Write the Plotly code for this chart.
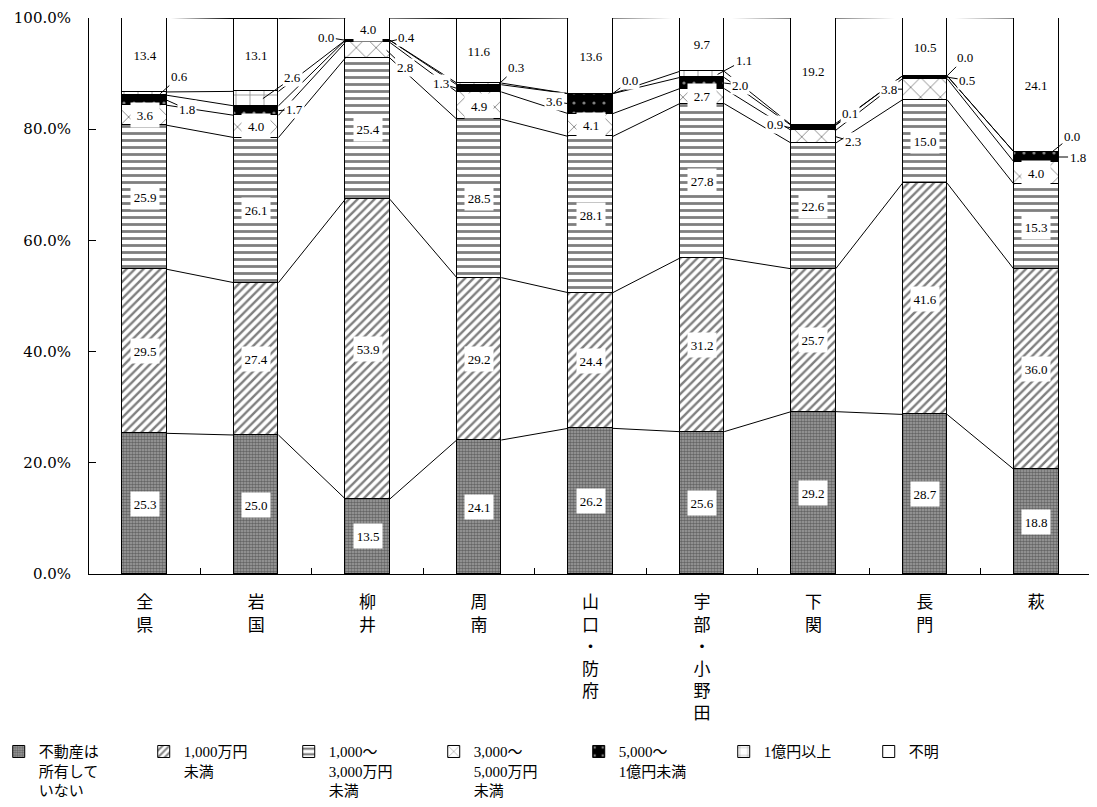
import plotly.graph_objects as go

categories = ["全県", "岩国", "柳井", "周南", "山口・防府", "宇部・小野田", "下関", "長門", "萩"]
series_names = ["不動産は<br>所有して<br>いない", "1,000万円<br>未満", "1,000～<br>3,000万円<br>未満",
                "3,000～<br>5,000万円<br>未満", "5,000～<br>1億円未満", "1億円以上", "不明"]

s_none = [25.3, 25.0, 13.5, 24.1, 26.2, 25.6, 29.2, 28.7, 18.8]
s_lt1000 = [29.5, 27.4, 53.9, 29.2, 24.4, 31.2, 25.7, 41.6, 36.0]
s_1000_3000 = [25.9, 26.1, 25.4, 28.5, 28.1, 27.8, 22.6, 15.0, 15.3]
s_3000_5000 = [3.6, 4.0, 2.8, 4.9, 4.1, 2.7, 2.3, 3.8, 4.0]
s_5000_1oku = [1.8, 1.7, 0.4, 1.3, 3.6, 2.0, 0.9, 0.5, 1.8]
s_1oku = [0.6, 2.6, 0.0, 0.3, 0.0, 1.1, 0.1, 0.0, 0.0]
s_unknown = [13.4, 13.1, 4.0, 11.6, 13.6, 9.7, 19.2, 10.5, 24.1]

series_values = [s_none, s_lt1000, s_1000_3000, s_3000_5000, s_5000_1oku, s_1oku, s_unknown]

tick_vals = [0, 20, 40, 60, 80, 100]
tick_text = ["0.0%", "20.0%", "40.0%", "60.0%", "80.0%", "100.0%"]

# ---- styles ----
BAR_W = 0.4
patterns = [
    dict(shape=".", fgcolor="#2a2a2a", bgcolor="#a0a0a0", size=3, solidity=0.55),
    dict(shape="/", fgcolor="#000000", bgcolor="#ffffff", size=6, solidity=0.4),
    dict(shape="-", fgcolor="#000000", bgcolor="#ffffff", size=7, solidity=0.4),
    dict(shape="x", fgcolor="#000000", bgcolor="#ffffff", size=14, solidity=0.12),
    dict(shape=".", fgcolor="#ffffff", bgcolor="#000000", size=10, solidity=0.08),
    dict(shape="+", fgcolor="#000000", bgcolor="#ffffff", size=14, solidity=0.1),
    dict(shape="", fgcolor="#000000", bgcolor="#ffffff"),
]
# placement of labels drawn outside the bar: (category idx, series idx) -> (dx, ax, ay)
outside = {
    (0, 5): (0.14, 19, -17), (0, 4): (0.2, 20, 9),
    (1, 5): (0.06, 30, -21), (1, 4): (0.2, 16, -1),
    (2, 5): (-0.2, -19, -3), (2, 4): (0.2, 17, -4), (2, 3): (0.17, 18, 17),
    (3, 5): (0.18, 17, -16), (3, 4): (-0.2, -16, -5),
    (4, 5): (0.2, 17, -13), (4, 4): (-0.2, -14, -2),
    (5, 5): (0.14, 26, -14), (5, 4): (0.2, 16, 2),
    (6, 4): (-0.2, -16, -3), (6, 5): (0.18, 17, -12), (6, 3): (0.2, 17, 5),
    (7, 5): (0.2, 18, -18), (7, 4): (0.2, 20, 3), (7, 3): (-0.2, -14, 0),
    (8, 5): (0.14, 20, -16), (8, 4): (0.2, 19, 0),
}

FONT = "Liberation Serif, Noto Sans CJK JP, serif"
xs = list(range(len(categories)))

fig = go.Figure()
for k, (name, vals) in enumerate(zip(series_names, series_values)):
    fig.add_trace(go.Bar(
        x=xs, y=vals, name=name, width=BAR_W,
        marker=dict(color="#ffffff", line=dict(color="#000000", width=1), pattern=patterns[k]),
    ))

# series lines connecting cumulative levels between adjacent bars
cums = []
for i in xs:
    c, row = 0.0, []
    for vals in series_values:
        c += vals[i]
        row.append(c)
    cums.append(row)

lx, ly = [], []
for k in range(len(series_values)):
    for i in xs[:-1]:
        lx += [i + BAR_W / 2, i + 1 - BAR_W / 2, None]
        ly += [cums[i][k], cums[i + 1][k], None]
fig.add_trace(go.Scatter(x=lx, y=ly, mode="lines", line=dict(color="#000000", width=1),
                         showlegend=False, hoverinfo="skip"))

annotations = []
for i in xs:
    base = 0.0
    for k, vals in enumerate(series_values):
        v = vals[i]
        mid = base + v / 2
        if (i, k) in outside:
            dx, ax, ay = outside[(i, k)]
            annotations.append(dict(x=i + dx, y=mid, xref="x", yref="y", text=f"{v:.1f}",
                                    showarrow=True, arrowhead=0, arrowwidth=1, arrowcolor="#000000",
                                    ax=ax, ay=ay, standoff=0, bgcolor="#ffffff", borderpad=1,
                                    font=dict(family=FONT, size=13, color="#000000")))
        else:
            annotations.append(dict(x=i, y=mid, xref="x", yref="y", text=f"{v:.1f}",
                                    showarrow=False, bgcolor="#ffffff", borderpad=2,
                                    width=24, height=20,
                                    font=dict(family=FONT, size=13, color="#000000")))
        base += v

fig.update_layout(
    width=1097, height=807,
    barmode="stack", bargap=0,
    paper_bgcolor="#ffffff", plot_bgcolor="#ffffff",
    margin=dict(l=81, r=13, t=10, b=241, autoexpand=False),
    font=dict(family=FONT, color="#000000"),
    annotations=annotations,
    showlegend=True,
    legend=dict(orientation="h", x=-0.09, xanchor="left", y=-0.29, yanchor="top",
                entrywidth=100, entrywidthmode="pixels", valign="top",
                traceorder="normal", itemwidth=30, bgcolor="rgba(0,0,0,0)",
                font=dict(family=FONT, size=15, color="#000000")),
)
fig.update_xaxes(
    range=[-0.5, len(categories) - 0.5], tickmode="array", tickvals=xs,
    ticktext=["<br>".join(list(c)) for c in categories], automargin=False,
    ticks="", showline=True, linecolor="#000000", linewidth=1, showgrid=False, zeroline=False,
    tickfont=dict(family=FONT, size=17, color="#000000"), ticklabelstandoff=13,
    minor=dict(tickmode="array", tickvals=[i + 0.5 for i in xs], ticks="inside",
               ticklen=6, tickcolor="#000000", tickwidth=1, showgrid=False),
)
fig.update_yaxes(
    range=[0, 100], tickmode="array", tickvals=tick_vals, ticktext=tick_text, automargin=False,
    ticks="inside", ticklen=7, tickcolor="#000000", showline=True, linecolor="#000000",
    linewidth=1, showgrid=False, zeroline=False, ticklabelstandoff=14,
    tickfont=dict(family="DejaVu Serif, serif", size=15, color="#000000"),
)

fig.write_html("out.html")
